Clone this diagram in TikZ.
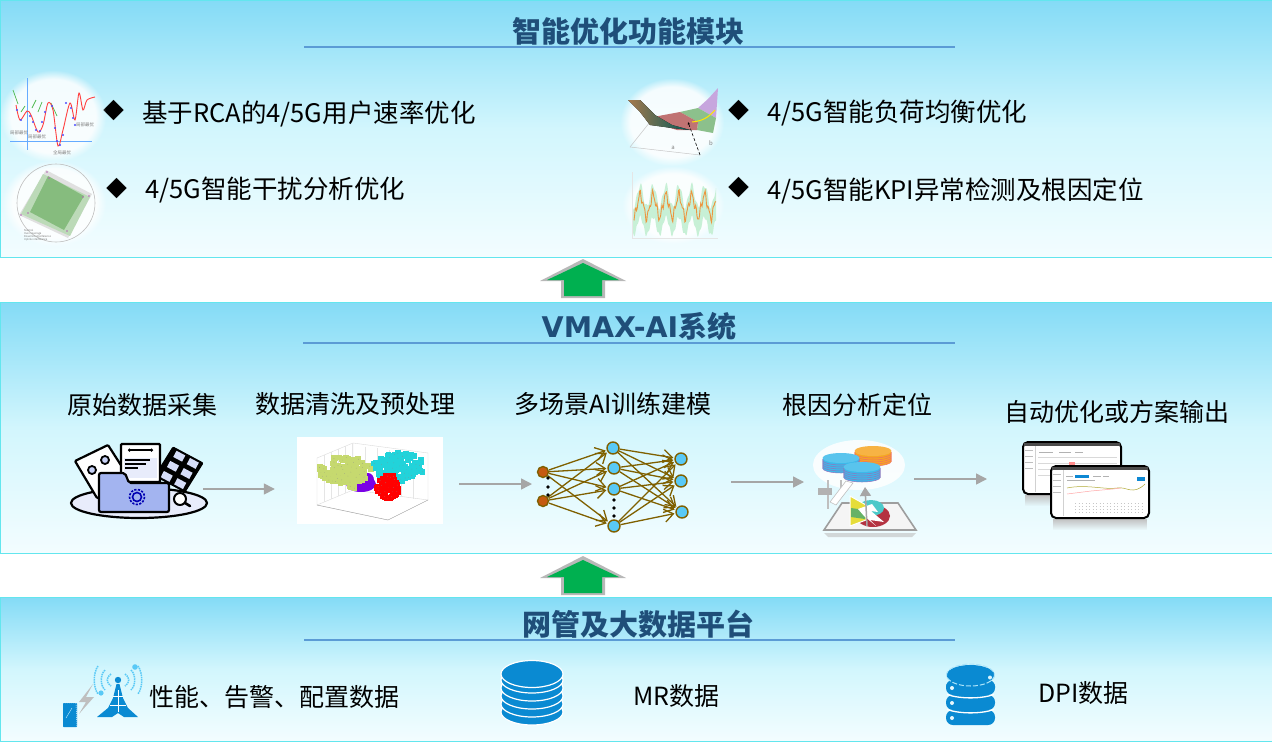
\documentclass[tikz,border=0pt]{standalone}
\usepackage{fontspec}
\setmainfont{Noto Sans CJK SC}
\newfontfamily\widefont{DejaVu Sans}
\usetikzlibrary{arrows.meta}
\usetikzlibrary{fadings}

\definecolor{paneltop}{HTML}{84DBF6}
\definecolor{panelmid}{HTML}{D2F6FD}
\definecolor{panelbot}{HTML}{F3FDFF}
\definecolor{panelline}{HTML}{63E6EE}
\definecolor{titleblue}{HTML}{1F4E79}
\definecolor{ruleblue}{HTML}{5B9BD5}
\definecolor{netbrown}{HTML}{7F6000}
\definecolor{netblue}{HTML}{59C9F6}
\definecolor{netorange}{HTML}{C55A11}
\definecolor{stackblue}{HTML}{0A8AD2}
\definecolor{folderblue}{HTML}{A3B4F0}
\definecolor{arrowgreen}{HTML}{00B050}
\definecolor{clusteryellow}{HTML}{C6D96F}
\definecolor{clustercyan}{HTML}{22D3DA}
\definecolor{clusterviolet}{HTML}{7A00E6}
\definecolor{radargreen}{HTML}{86BC7E}
\definecolor{coinblue}{HTML}{3CB9EA}
\definecolor{coinorange}{HTML}{F5A623}

\tikzset{
  panelbox/.style={anchor=north west, minimum width=1271pt, inner sep=0pt,
    top color=paneltop, bottom color=panelbot, middle color=panelmid},
  panelrim/.style={draw=panelline, line width=0.8pt},
  titletext/.style={font=\fontsize{29}{30}\selectfont\bfseries, text=titleblue, inner sep=0pt},
  titlerule/.style={draw=ruleblue, line width=1.3pt},
  itemtext/.style={font=\fontsize{25.5}{27}\selectfont, anchor=west, inner sep=0pt},
  basetext/.style={font=\fontsize{25}{27}\selectfont, anchor=west, inner sep=0pt},
  stagetext/.style={font=\fontsize{25}{27}\selectfont, inner sep=0pt},
  bullettext/.style={font=\fontsize{21}{22}\selectfont, inner sep=0pt},
  stagebox/.style={inner sep=0pt, minimum height=20pt},
  flowarrow/.style={draw=black!35, line width=1.5pt, -{Triangle[length=11pt,width=11pt]}, shorten >=22pt},
  flowarrowb/.style={draw=black!35, line width=1.5pt, -{Triangle[length=11pt,width=11pt]}},
  inlayer/.style={circle, draw=netbrown, line width=1.4pt, fill=netorange, minimum size=11pt, inner sep=0pt},
  hidlayer/.style={circle, draw=netbrown, line width=1.4pt, fill=netblue, minimum size=12pt, inner sep=0pt},
  netarrow/.style={draw=netbrown, line width=1.3pt, -{Straight Barb[length=9pt,width=13pt]}, shorten >=1pt},
  tinydot/.style={fill=black, circle, minimum size=3.6pt, inner sep=0pt},
  tinylabel/.style={font=\fontsize{4.5}{5}\selectfont, text=black!50, inner sep=0pt},
  softwhite/.style={fill=white, opacity=0.85, path fading=circle with fuzzy edge 20 percent},
  pics/bigarrow/.style={code={
    \fill[black!28] (0,-1) -- (43,21) -- (22,21) -- (22,38) -- (-22,38) -- (-22,21) -- (-43,21) -- cycle;
    \fill[arrowgreen] (0,3) -- (36,20) -- (19,20) -- (19,36) -- (-19,36) -- (-19,20) -- (-36,20) -- cycle;
  }},
  pics/coinstack/.style={code={
    \foreach \yy in {10,8,6,4,2}
      \draw[fill=#1, draw=magenta!40!#1, line width=0.5pt] (0,\yy) ellipse [x radius=18.5, y radius=5];
    \fill[#1!85!white] (0,0) ellipse [x radius=18.5, y radius=5];
  }},
  pics/tabletview/.style={code={
    \fill[black!24, path fading=south] (2,53) rectangle (96,64);
    \draw[fill=white, line width=2pt, rounded corners=5pt] (0,0) rectangle (98,52);
    \fill[black!70] (1,1) rectangle (97,3.5);
    \draw[black!18, line width=0.6pt] (12,4) -- (12,50);
    \foreach \yy in {8,14,20,26}
      \draw[black!25, line width=0.5pt] (2,\yy) -- (10,\yy);
    #1
  }}
}

\begin{document}
\begin{tikzpicture}[x=1pt, y=-1pt]
  \useasboundingbox (0,0) rectangle (1272,742);
  \fill[white] (0,0) rectangle (1272,742);

  % three panels
  \node[panelbox, minimum height=257pt] (smartpanel) at (0.5,0) {};
  \node[panelbox, minimum height=251pt] (vmaxpanel) at (0.5,302) {};
  \node[panelbox, minimum height=144pt] (datapanel) at (0.5,597) {};
  \foreach \pp in {smartpanel,vmaxpanel,datapanel}
    \draw[panelrim] (\pp.north west) rectangle (\pp.south east);

  \pic at (583,260) {bigarrow};
  \pic at (583,557) {bigarrow};

  \node[titletext] (smarttitle) at (628.5,31) {智能优化功能模块};
  \node[titletext] (vmaxtitle) at (639,326) {{\widefont\fontsize{28.5}{30}\selectfont VMAX-AI}系统};
  \node[titletext] (datatitle) at (638.5,624) {网管及大数据平台};
  \draw[titlerule] (304,47) -- (955,47);
  \draw[titlerule] (303,343) -- (955,343);
  \draw[titlerule] (304,640) -- (955,640);

  % top panel text
  \node[bullettext] (bulleta) at (114,111) {◆};
  \node[bullettext] (bulletb) at (117,189) {◆};
  \node[bullettext] (bulletc) at (739,111) {◆};
  \node[bullettext] (bulletd) at (739,188) {◆};
  \node[itemtext] (itema) at (142,113.5) {基于RCA的4/5G用户速率优化};
  \node[itemtext] (itemb) at (145,190.5) {4/5G智能干扰分析优化};
  \node[itemtext] (itemc) at (767,113.5) {4/5G智能负荷均衡优化};
  \node[itemtext] (itemd) at (767,190.5) {4/5G智能KPI异常检测及根因定位};

  % wave chart
  \fill[softwhite] (0,70) rectangle (106,162);
  \draw[blue!55!cyan!60, line width=0.7pt] (27,78) -- (27,150);
  \draw[blue!55!cyan!60, line width=0.8pt] (10,141) -- (92,141);
  \foreach \xa/\ya/\xb/\yb in {13/90/18/104, 21/112/25/106, 32/108/36/100, 38/112/42/102, 51/103/57/116}
    \draw[green!60!black!70, line width=0.7pt] (\xa,\ya) -- (\xb,\yb);
  \draw[red!75, line width=0.9pt] plot[smooth] coordinates {(16,105) (20,120) (27,111) (31,115) (38,132) (43,125) (48,103) (53,110) (58,146) (63,130) (70,103) (75,120) (79,93) (83,110) (87,100) (95,97)};
  \foreach \xa/\ya in {17/110, 21/120, 30/116, 33/122, 36/130, 40/131, 42/122, 45/112, 52/106, 55/128, 57/141, 60/145, 63/135, 66/103, 71/108, 73/118, 75/125}
    \fill[blue!70] (\xa,\ya) circle (1.2);
  \node[tinylabel] (localone) at (19,133) {局部最优};
  \node[tinylabel] (localtwo) at (37,137) {局部最优};
  \node[tinylabel] (localthree) at (85,125) {局部最优};
  \node[tinylabel] (globalbest) at (62,153) {全局最优};

  % radar chart
  \fill[softwhite] (2,160) rectangle (106,246);
  \draw[black!25, line width=0.6pt] (56,203) circle (39);
  \fill[black!12] (46,170) -- (92,194) -- (68,238) -- (19,215) -- cycle;
  \fill[radargreen!55] (43,174) -- (90,197) -- (70,236) -- (21,214) -- cycle;
  \fill[radargreen] (48,176) -- (84,196) -- (64,230) -- (30,212) -- cycle;
  \foreach \xa/\ya in {47/172, 49/178, 89/196, 83/197, 67/231, 28/213, 21/215}
    \fill[violet!60] (\xa,\ya) circle (0.8);
  \node[font=\fontsize{2.6}{3}\selectfont, text=black!55, align=left, anchor=north west, inner sep=0pt] (radarkey) at (24,229) {Normal\\Over coverage\\Downlink interference\\Uplink interference};

  % surface chart
  \fill[softwhite] (620,78) rectangle (724,166);
  \draw[black!22, line width=0.5pt] (630,147) -- (650,122) -- (660,122);
  \draw[black!22, line width=0.5pt] (630,147) -- (700,155);
  \fill[purple!50!blue!35] (698,108) -- (708,99) -- (718,88) -- (716,118) -- cycle;
  \fill[green!45!black!45] (680,112) -- (698,108) -- (716,118) -- (713,133) -- (697,130) -- (698,122) -- cycle;
  \fill[red!55!black!55] (653,117) -- (680,112) -- (698,122) -- (697,130) -- (677,130) -- (660,125) -- cycle;
  \fill[left color=orange!50!black!70, right color=teal!70!black] (628,100) -- (640,100) -- (655,115) -- (672,125) -- (690,130) -- (672,128) -- (650,125) -- (640,112) -- cycle;
  \draw[yellow!90!orange, line width=1pt] (692,122) .. controls (702,121) and (708,118) .. (715,110);
  \draw[black, densely dashed, line width=0.6pt, -{Stealth[length=3pt]}] (700,155) -- (688,122);
  \node[tinylabel, font=\fontsize{6}{6}\selectfont] (axisa) at (673,148) {a};
  \node[tinylabel, font=\fontsize{6}{6}\selectfont] (axisb) at (711,143) {b};

  % kpi chart
  \fill[softwhite] (622,166) rectangle (724,244);
  \draw[black!10, line width=0.4pt] (632,172) -- (632,238) -- (718,238);
  \fill[green!45!teal!22] plot[domain=3:86, samples=120] ({630+\x},{196-11*sin(28*(\x-7))-3*sin(71*\x)})
    -- plot[domain=86:3, samples=120] ({630+\x},{226-9*sin(28*(\x-7))+2*sin(97*\x)}) -- cycle;
  \draw[orange!90!black!75, line width=0.9pt] plot[domain=4:86, samples=130] ({630+\x},{206-11*sin(28*(\x-7))-4*sin(83*\x)-2*sin(149*\x)});

  % stage labels
  \node[stagetext] (collecttext) at (142,405) {原始数据采集};
  \node[stagetext] (cleantext) at (355,404) {数据清洗及预处理};
  \node[stagetext] (traintext) at (613,404) {多场景AI训练建模};
  \node[stagetext] (locatetext) at (857,405) {根因分析定位};
  \node[stagetext] (outputtext) at (1117,412) {自动优化或方案输出};

  % invisible stage boxes, the flow arrows run between them
  \node[stagebox, minimum width=132pt] (collect) at (137,489) {};
  \node[stagebox, minimum width=146pt] (clean) at (370,489) {};
  \coordinate (cleanout) at (459,484);
  \node[stagebox, minimum width=1pt] (train) at (532,484) {};
  \coordinate (trainout) at (731,482);
  \node[stagebox, minimum width=1pt] (locate) at (804,482) {};
  \coordinate (locateout) at (914,479);
  \node[stagebox, minimum width=1pt] (output) at (987,479) {};
  \draw[flowarrow] (collect.east) -- (clean.west);
  \draw[flowarrowb] (cleanout) -- (train.center);
  \draw[flowarrowb] (trainout) -- (locate.center);
  \draw[flowarrowb] (locateout) -- (output.center);

  % folder icon
  \draw[fill=folderblue!25, line width=2.2pt] (139,503) ellipse [x radius=68, y radius=15];
  \draw[fill=white, line width=2.2pt, rounded corners=1pt] (75,461) -- (108,445) -- (142,498) -- (97,498) -- cycle;
  \draw[fill=folderblue!60, line width=1.8pt] (92,470) circle (4);
  \draw[fill=folderblue!60, line width=1.8pt] (105,460) circle (4);
  \draw[fill=black, rounded corners=1pt, line width=1pt] (173,447) -- (203,463) -- (185,492) -- (155,476) -- cycle;
  \foreach \xa/\ya in {179.3/456.2, 192.8/463.4, 173/466.3, 186.5/473.5, 166.7/476.4, 180.2/483.6}
    \fill[folderblue!45, rotate around={-28:(\xa,\ya)}] (\xa-5,\ya-3.5) rectangle (\xa+5,\ya+3.5);
  \draw[fill=white, line width=2.2pt, rounded corners=1pt] (121,444) rectangle (160,482);
  \draw[line width=1.2pt, {Circle[length=3pt]}-{Circle[length=3pt]}] (128,450) -- (153,450);
  \fill[folderblue!25] (124,458) rectangle (157,478);
  \draw[line width=1.4pt] (125,460) -- (150,460) (125,464) -- (146,464) (125,468) -- (138,468);
  \draw[fill=folderblue, line width=2.2pt, rounded corners=2pt] (99,473) -- (125,473) -- (129,483) -- (169,483) -- (169,512) -- (99,512) -- cycle;
  \draw[blue!70!black, line width=1.6pt, dash pattern=on 2.2pt off 1.4pt] (137,497) circle (7.5);
  \draw[blue!70!black, line width=1.6pt] (137,497) circle (4.5);
  \draw[fill=white, line width=2pt] (180,499) circle (6);
  \draw[line width=2.6pt, line cap=round] (185,503) -- (190,506);

  % cluster picture
  \fill[white] (297,437) rectangle (443,524);
  \draw[black!14, line width=0.4pt] (317,458) -- (353,443) -- (428,453) -- (428,500) -- (388,520) -- (317,505) -- cycle;
  \draw[black!14, line width=0.4pt] (353,443) -- (353,490) -- (428,500) (353,490) -- (317,505);
  \foreach \kk in {1,...,5} {
    \draw[black!10, line width=0.3pt] (317+7*\kk,458-3*\kk) -- (317+7*\kk,505-3*\kk);
    \draw[black!10, line width=0.3pt] (353+12*\kk,445+1.7*\kk) -- (353+12*\kk,490+1.7*\kk);
  }
  \draw[black!35, line width=0.4pt] (317,505) -- (388,520) -- (428,500);
  \pgfmathsetseed{42}
  \fill[clusterviolet] (361,484) ellipse [x radius=15, y radius=8];
  \fill[clusterviolet] (368,480) ellipse [x radius=6, y radius=7];
  \foreach \cx/\cy/\rx/\ry/\cc/\nn in {345/470/26/14/clusteryellow/120, 352/481/6/8/clusteryellow/16, 399/467/26/14/clustercyan/130, 388/487/12/12/red/90}
    \foreach \ii in {1,...,\nn} {
      \pgfmathsetmacro{\rr}{sqrt(rnd)}
      \pgfmathsetmacro{\tt}{360*rnd}
      \pgfmathsetmacro{\px}{\cx+\rx*\rr*cos(\tt)}
      \pgfmathsetmacro{\py}{\cy+\ry*\rr*sin(\tt)}
      \fill[\cc] (\px-2.8,\py-2.8) rectangle (\px+2.8,\py+2.8);
      \fill[black!45] (\px,\py) circle (0.3);
    }

  % neural net
  \node[inlayer] (ina) at (543,472) {};
  \node[inlayer] (inb) at (543,501) {};
  \node[hidlayer] (hida) at (613,448) {};
  \node[hidlayer] (hidb) at (614,468) {};
  \node[hidlayer] (hidc) at (614,489) {};
  \node[hidlayer] (hidd) at (614,526) {};
  \node[hidlayer] (outa) at (681,459) {};
  \node[hidlayer] (outb) at (681,481) {};
  \node[hidlayer] (outc) at (682,512) {};
  \foreach \src in {ina,inb}
    \foreach \dst in {hida,hidb,hidc,hidd}
      \draw[netarrow] (\src) -- (\dst);
  \foreach \src in {hida,hidb,hidc,hidd}
    \foreach \dst in {outa,outb,outc}
      \draw[netarrow] (\src) -- (\dst);
  \foreach \yy/\nm in {478/a,487/b,495/c}
    \node[tinydot] (indot\nm) at (548,\yy) {};
  \foreach \yy/\nm in {500/a,508/b,516/c}
    \node[tinydot] (hiddot\nm) at (614,\yy) {};

  % root cause icon
  \fill[white, opacity=0.85] (859,465) ellipse [x radius=46, y radius=25];
  \pic at (873,451) {coinstack=coinorange};
  \pic at (841,458) {coinstack=coinblue};
  \pic at (862,467) {coinstack=coinblue};
  \fill[black!25, opacity=0.6] (824,533) -- (916,533) -- (912,537) -- (828,537) -- cycle;
  \draw[fill=black!4, draw=black!38, line width=1.6pt] (842,503) -- (898,503) -- (916,530) -- (824,530) -- cycle;
  \fill[red!60!purple!70!black!80] (873,516) ellipse [x radius=17, y radius=11];
  \fill[teal!60!cyan!70] (871,508) ellipse [x radius=13, y radius=8];
  \fill[yellow!70!olive!75, draw=white, line width=1pt] (850,496) -- (866,505) -- (866,520) -- (850,526) -- cycle;
  \fill[green!50!black!60] (851,508) -- (865,510) -- (865,519) -- (851,517) -- cycle;
  \fill[white] (858,509) -- (872,504) -- (878,512) -- (871,511) -- (884,522) -- (870,520) -- (876,526) -- (864,516) -- cycle;
  \draw[black!35, line width=1.5pt, -{Triangle[length=9pt,width=11pt]}] (867,526) -- (865,487);
  \draw[black!25, line width=1.6pt] (828,480) -- (828,509);
  \draw[black!25, line width=1.2pt] (841,480) -- (841,488);
  \fill[white, draw=black!25, line width=0.6pt] (846,481) -- (853,483) -- (836,505) -- (830,502) -- cycle;
  \fill[black!30] (818,488) rectangle (832,495);

  % two tablets
  \pic at (1023,442) {tabletview={
    \foreach \yy in {15,21,27,33} \draw[black!15, line width=0.5pt] (15,\yy) -- (94,\yy);
    \fill[red!45] (46,20) rectangle (52,22.5);
    \draw[black!30, line width=0.6pt] (16,10) -- (30,10) (36,10) -- (48,10) (52,10) -- (60,10);
  }};
  \pic at (1051,466) {tabletview={
    \fill[cyan!70!blue] (24,8.5) rectangle (38,11.5);
    \fill[cyan!70!blue] (86,11) rectangle (94,15);
    \draw[black!30, line width=0.5pt] (15,10) -- (22,10) (42,10) -- (50,10) (52,10) -- (58,10) (16,14) -- (44,14);
    \draw[olive!70, line width=0.5pt] (16,22) .. controls (35,18) and (55,24) .. (66,22) .. controls (75,20) and (82,30) .. (94,18);
    \draw[red!35, line width=0.5pt] (16,28) -- (40,25) -- (62,23) -- (70,22);
    \foreach \yy in {37,40,43,46}
      \draw[black!22, line width=0.8pt, dash pattern=on 1pt off 2.5pt] (24,\yy) -- (94,\yy);
  }};

  % bottom panel
  \node[basetext] (perftext) at (149,697) {性能、告警、配置数据};
  \node[basetext] (mrtext) at (633,696) {MR数据};
  \node[basetext] (dpitext) at (1038,693) {DPI数据};

  % tower and phone
  \foreach \rr/\hh in {7/6,13/10,20/14} {
    \draw[netblue, line width=1.5pt, dash pattern=on 1.5pt off 0.8pt] (118-\rr,680-\hh) .. controls (118-\rr-5,680-\hh/2) and (118-\rr-5,680+\hh/2) .. (118-\rr,680+\hh);
    \draw[netblue, line width=1.5pt, dash pattern=on 1.5pt off 0.8pt] (118+\rr,680-\hh) .. controls (118+\rr+5,680-\hh/2) and (118+\rr+5,680+\hh/2) .. (118+\rr,680+\hh);
  }
  \fill[stackblue] (116.5,684) -- (119.5,684) -- (123,698) -- (128,708) -- (138,717) -- (124,717) -- (118,713) -- (112,717) -- (97,717) -- (108,708) -- (113,698) -- cycle;
  \draw[white, line width=0.9pt] (113,696) -- (123,696) (110,705) -- (126,705) (118,690) -- (118,712);
  \fill[stackblue] (118,680) circle (3.2);
  \fill[netblue] (101,693) circle (2.6);
  \fill[netblue] (135,667) circle (2.8);
  \fill[black!25] (93,684) -- (79,702) -- (86,702) -- (79,714) -- (94,697) -- (86,697) -- cycle;
  \fill[stackblue, rounded corners=0.6pt] (63,703) rectangle (77,727);
  \draw[white, line width=0.4pt, dash pattern=on 1pt off 1pt] (76,703) -- (77,727) (63,703) -- (77,703);
  \draw[white!80!cyan, line width=0.4pt] (66,718) -- (72,708);

  % mr stack
  \foreach \yy in {712,704,696,688,680}
    \draw[fill=stackblue, draw=white, line width=1.2pt] (532,\yy) ellipse [x radius=31, y radius=13];
  \draw[fill=stackblue, draw=white, line width=1.2pt] (532,674) ellipse [x radius=31, y radius=13.5];

  % dpi stack
  \foreach \yy in {680,695,710}
    \fill[stackblue, rounded corners=7pt] (946,\yy) rectangle (995,\yy+15);
  \fill[stackblue, rounded corners=7pt] (946,680) rectangle (995,693);
  \draw[white, line width=1.3pt] (947,694.5) .. controls (960,699) and (981,699) .. (994,694.5);
  \draw[white, line width=1.3pt] (947,709.5) .. controls (960,714) and (981,714) .. (994,709.5);
  \fill[stackblue] (970.5,675) ellipse [x radius=24, y radius=10];
  \draw[netblue!50!white, line width=1pt, dash pattern=on 5pt off 2pt] (970.5,675) ellipse [x radius=24, y radius=11];
  \fill[white!85!cyan] (990,677.5) circle (2);
  \foreach \yy in {688,703,718}
    \fill[white!90!cyan] (952,\yy) circle (2);
\end{tikzpicture}
\end{document}
